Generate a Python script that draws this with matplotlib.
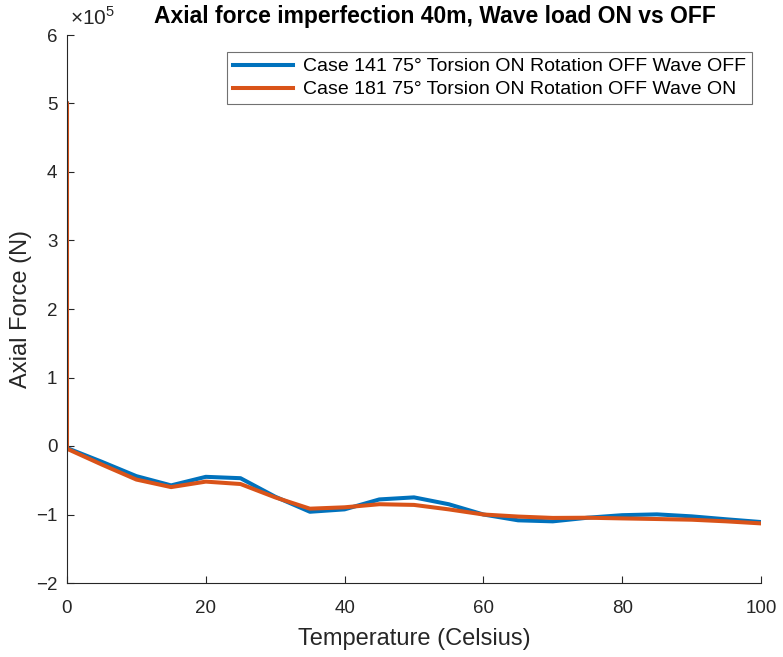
import matplotlib
matplotlib.use("Agg")
import matplotlib.pyplot as plt

plt.rcParams['font.family'] = ['Liberation Sans', 'DejaVu Sans']
plt.rcParams['mathtext.fontset'] = 'custom'
plt.rcParams['mathtext.rm'] = 'Liberation Sans'

# Temperature steps (first point is the initial state at 0 °C)
temperature = [0, 0, 5, 10, 15, 20, 25, 30, 35, 40, 45, 50,
               55, 60, 65, 70, 75, 80, 85, 90, 95, 100]

# Axial force in units of 1e5 N
force_wave_off = [5.0, -0.03, -0.23, -0.44, -0.575, -0.45, -0.47, -0.74, -0.96, -0.925, -0.78, -0.75,
                  -0.85, -1.0, -1.085, -1.10, -1.047, -1.01, -0.998, -1.027, -1.07, -1.11]
force_wave_on = [5.0, -0.04, -0.27, -0.49, -0.60, -0.52, -0.555, -0.75, -0.915, -0.895, -0.85, -0.86,
                 -0.925, -1.0, -1.03, -1.05, -1.047, -1.057, -1.066, -1.076, -1.10, -1.13]

labels = ["Case 141 75° Torsion ON Rotation OFF Wave OFF",
          "Case 181 75° Torsion ON Rotation OFF Wave ON"]

scale = 1e5
fig = plt.figure(figsize=(7.83, 6.57), dpi=100)
ax = fig.add_axes([67 / 783, 1 - 583 / 657, (761 - 67) / 783, (583 - 35) / 657])

ax.plot(temperature, [v * scale for v in force_wave_off], color='#0072BD', lw=2.9, label=labels[0])
ax.plot(temperature, [v * scale for v in force_wave_on], color='#D95319', lw=2.9, label=labels[1])

ax.set_xlim(0, 100)
ax.set_ylim(-2e5, 6e5)
ax.set_xticks(range(0, 101, 20))
ax.set_yticks([i * scale for i in range(-2, 7)])
ax.set_yticklabels([str(i).replace('-', '\u2212') for i in range(-2, 7)])

dark = '#262626'
for side in ('top', 'right'):
    ax.spines[side].set_visible(False)
for side in ('left', 'bottom'):
    ax.spines[side].set_color(dark)
    ax.spines[side].set_linewidth(0.8)
ax.tick_params(direction='in', length=5, width=0.8, colors=dark, labelsize=13.5)
ax.tick_params(axis='x', pad=12)
ax.tick_params(axis='y', pad=7)

ax.set_xlabel('Temperature (Celsius)', fontsize=17, color=dark, labelpad=8)
ax.set_ylabel('Axial Force (N)', fontsize=17, color=dark, labelpad=3)
ax.text(3 / 694, 1.0 + 6 / 548, r'$\times10^{5}$', transform=ax.transAxes, fontsize=15, color=dark,
        ha='left', va='bottom')
ax.set_title('Axial force imperfection 40m, Wave load ON vs OFF', fontsize=16.5, fontweight='bold',
             color='black', pad=9, x=(435 - 67) / 694)

leg = ax.legend(loc='upper right', bbox_to_anchor=(0.987, 0.969), fontsize=14, frameon=True,
                fancybox=False, edgecolor='#4d4d4d', handlelength=3.1, borderpad=0.3,
                labelspacing=0.28, handletextpad=0.5, borderaxespad=0)
leg.get_frame().set_linewidth(0.8)

fig.savefig('out.png', dpi=100)
